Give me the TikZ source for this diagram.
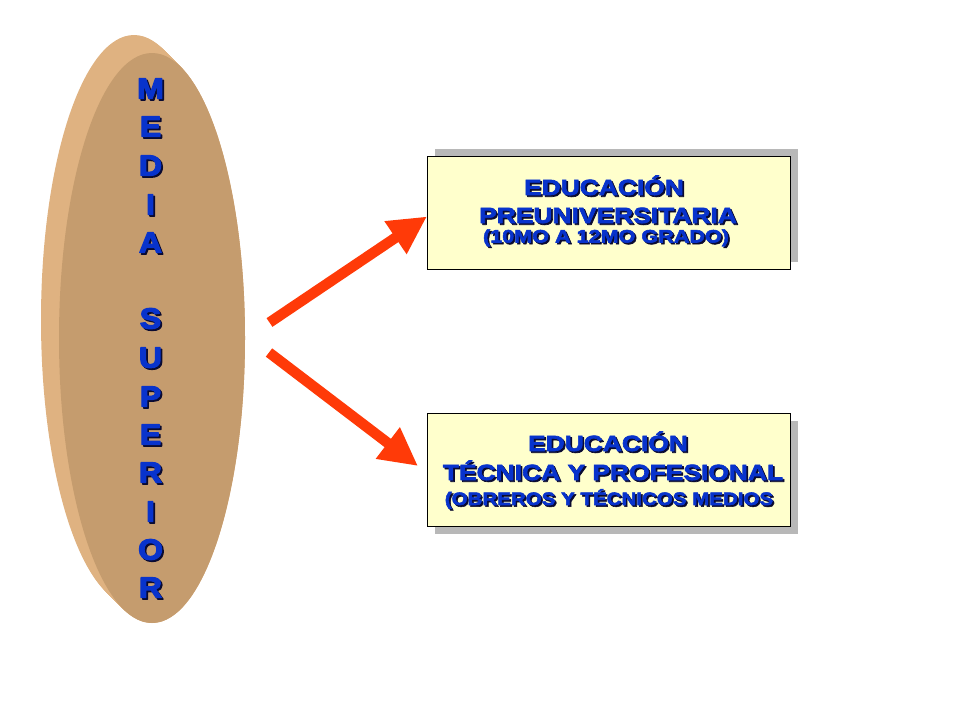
\documentclass[tikz,border=0pt]{standalone}
\usepackage{fontspec}
\setmainfont{Liberation Sans}
\newfontfamily\widefont[FakeStretch=1.2,FakeBold=3]{Liberation Sans}
\newfontfamily\subwidefont[FakeStretch=1.14,FakeBold=3]{Liberation Sans}
\newfontfamily\discfont[FakeStretch=1.1,FakeBold=4.5]{Liberation Sans}
\usetikzlibrary{arrows.meta,calc}
\definecolor{rimcol}{HTML}{DFB281}
\definecolor{facecol}{HTML}{C59C6E}
\definecolor{txtblue}{HTML}{0833CC}
\definecolor{txtshadow}{HTML}{0A0A30}
\definecolor{boxfill}{HTML}{FFFFCC}
\definecolor{boxshadow}{HTML}{B8B8B8}
\definecolor{arrowcol}{HTML}{FF3A08}
\newcommand{\shtxt}[1]{\makebox[0pt][l]{\hspace{1.7pt}\raisebox{-1.7pt}{\color{txtshadow}#1}}{\color{txtblue}#1}}
\tikzset{
  letter/.style={anchor=base, inner sep=0pt, text depth=0pt, line join=round, font=\discfont\bfseries\fontsize{29}{29}\selectfont},
  eduline/.style={anchor=base, inner sep=0pt, text height=16pt, text depth=0pt, line join=round, font=\widefont\bfseries\fontsize{22}{22}\selectfont},
  subline/.style={anchor=base, inner sep=0pt, text height=13pt, text depth=0pt, line join=round, font=\widefont\bfseries\fontsize{18}{18}\selectfont},
  subline2/.style={subline, font=\subwidefont\bfseries\fontsize{18}{18}\selectfont},
  ebox/.style={draw=black, line width=0.8pt, fill=boxfill, minimum width=363pt, minimum height=113pt, inner sep=0pt},
  sbox/.style={fill=boxshadow, minimum width=363pt, minimum height=113pt, inner sep=0pt},
  bigarrow/.style={draw=arrowcol, line width=10.5pt, -{Triangle[length=38pt,width=37pt]}}
}
\begin{document}
\begin{tikzpicture}[x=1pt,y=-1pt]
\useasboundingbox (0,0) rectangle (960,720);
% disc (rim then face)
\foreach \k in {0,1,...,18}{
  \fill[rimcol] ({134+\k},{320+\k}) ellipse [x radius=93, y radius=285];
}
\fill[facecol] (152,338) ellipse [x radius=93, y radius=285];
\node[coordinate] (disc) at (152,338) {};
% letters
\foreach \l/\y [count=\i] in {M/88,E/126,D/165,I/204,A/242,S/318,U/357,P/396,E/434,R/472,I/511,O/549,R/587}{
  \node[letter] (L\i) at (150.5,\y+10.5) {\shtxt{\l}};
}
% boxes
\node[sbox] (s1) at (616.5,205) {};
\node[ebox] (b1) at (608.5,212.5) {};
\node[sbox] (s2) at (616.5,477.5) {};
\node[ebox] (b2) at (608.5,470) {};
% text box 1
\node[eduline] (t11) at (604,195) {\shtxt{EDUCACIÓN}};
\node[eduline] (t12) at (608,223) {\shtxt{PREUNIVERSITARIA}};
\node[subline] (t13) at (606,242.5) {\shtxt{(10MO A 12MO GRADO)}};
% text box 2
\node[eduline] (t21) at (608,451) {\shtxt{EDUCACIÓN}};
\node[eduline] (t22) at (613,480) {\shtxt{TÉCNICA Y PROFESIONAL}};
\node[subline2] (t23) at (609,505) {\shtxt{(OBREROS Y TÉCNICOS MEDIOS}};
% arrows
\coordinate (a1s) at (269.5,322.5);
\coordinate (a1e) at (427,216.5);
\coordinate (a2s) at (269,352.5);
\coordinate (a2e) at (418,466);
\draw[bigarrow] (a1s) -- (a1e);
\draw[bigarrow] (a2s) -- (a2e);
\end{tikzpicture}
\end{document}
